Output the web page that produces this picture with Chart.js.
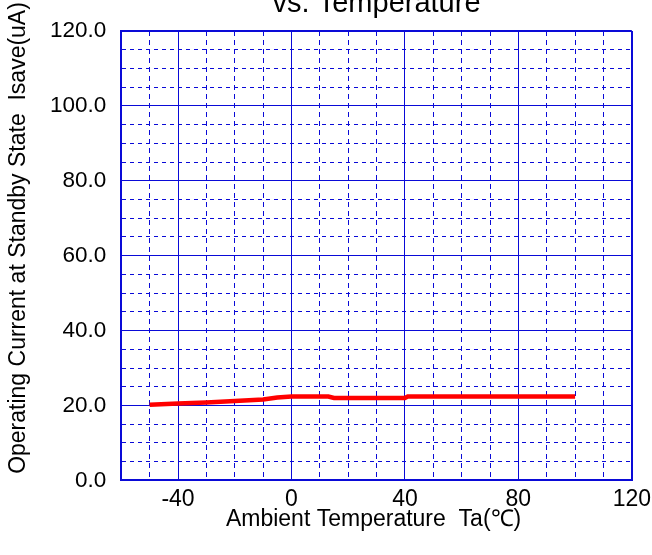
<!DOCTYPE html>
<html>
<head>
<meta charset="utf-8">
<script src="https://cdn.jsdelivr.net/npm/chart.js@4"></script>
<style>
  body { margin: 0; background: #fff; }
</style>
</head>
<body>
<canvas id="myChart" width="652" height="555"></canvas>
<script>
// ambient temperature (deg C) and standby current (uA)
var temps = [-50, -40, -30, -20, -10, -5, 0, 5, 10, 13, 15, 20, 30, 40, 41, 60, 80, 100];
var isave = [20.2, 20.5, 20.8, 21.2, 21.6, 22.1, 22.4, 22.4, 22.4, 22.4, 22.0, 22.0, 22.0, 22.0, 22.4, 22.4, 22.4, 22.4];

var xMin = -60, xMax = 120, xStep = 10, xLabelEvery = 40;
var yMin = 0, yMax = 120, yStep = 5, yLabelEvery = 20;

var titleText = 'vs. Temperature';
var xTitle = 'Ambient Temperature  Ta(\u2103)';
var yTitle = 'Operating Current at Standby State  Isave(uA)';

var FONT = '"Liberation Sans", Arial, sans-serif';
var gridBlue = 'rgb(10, 10, 215)';

// titles are drawn by hand so they can sit where the original has them
var textPlugin = {
    id: 'texts',
    afterDraw: function(chart) {
        var c = chart.ctx;
        var area = chart.chartArea;
        var mid = (area.left + area.right) / 2;
        c.save();
        c.fillStyle = '#000';
        c.textAlign = 'center';
        c.textBaseline = 'alphabetic';
        c.font = '29px ' + FONT;
        c.fillText(titleText, mid, 11.5);
        c.font = '23px ' + FONT;
        c.fillText(xTitle, mid - 3, 526);
        c.translate(25, 238);
        c.rotate(-Math.PI / 2);
        c.fillText(yTitle, 0, 0);
        c.restore();
    }
};

function gridDash(every, dash) {
    return function(ctx) {
        if (!ctx.tick) return [];
        return ctx.tick.value % every === 0 ? [] : dash;
    };
}

function gridWidth(min, max) {
    return function(ctx) {
        if (!ctx.tick) return 1;
        return (ctx.tick.value === min || ctx.tick.value === max) ? 2 : 1;
    };
}

var ctx = document.getElementById('myChart').getContext('2d');
var chart = new Chart(ctx, {
    type: 'line',
    data: {
        datasets: [{
            data: temps.map(function(t, i) { return {x: t, y: isave[i]}; }),
            borderColor: 'rgb(255, 0, 0)',
            borderWidth: 4.5,
            pointRadius: 0,
            tension: 0,
            fill: false
        }]
    },
    options: {
        responsive: false,
        animation: false,
        layout: {
            padding: {left: 35, right: 9, top: 31, bottom: 37}
        },
        plugins: {
            legend: {display: false},
            tooltip: {enabled: false}
        },
        scales: {
            x: {
                type: 'linear',
                min: xMin,
                max: xMax,
                grid: {
                    color: gridBlue,
                    lineWidth: gridWidth(xMin, xMax),
                    drawTicks: false
                },
                border: {
                    color: gridBlue,
                    width: 2,
                    dash: gridDash(xLabelEvery, [5, 4])
                },
                ticks: {
                    stepSize: xStep,
                    autoSkip: false,
                    maxRotation: 0,
                    padding: 1,
                    color: '#000',
                    font: {family: FONT, size: 23, lineHeight: 1.55},
                    callback: function(v) {
                        return (v % xLabelEvery === 0) ? String(v) : '';
                    }
                }
            },
            y: {
                min: yMin,
                max: yMax,
                grid: {
                    color: gridBlue,
                    lineWidth: gridWidth(yMin, yMax),
                    drawTicks: false
                },
                border: {
                    color: gridBlue,
                    width: 2,
                    dash: gridDash(yLabelEvery, [4, 4])
                },
                ticks: {
                    stepSize: yStep,
                    autoSkip: false,
                    padding: 15,
                    color: '#000',
                    font: {family: FONT, size: 22.5},
                    callback: function(v) {
                        return (v % yLabelEvery === 0) ? v.toFixed(1) : '';
                    }
                }
            }
        }
    },
    plugins: [textPlugin]
});
</script>
</body>
</html>
